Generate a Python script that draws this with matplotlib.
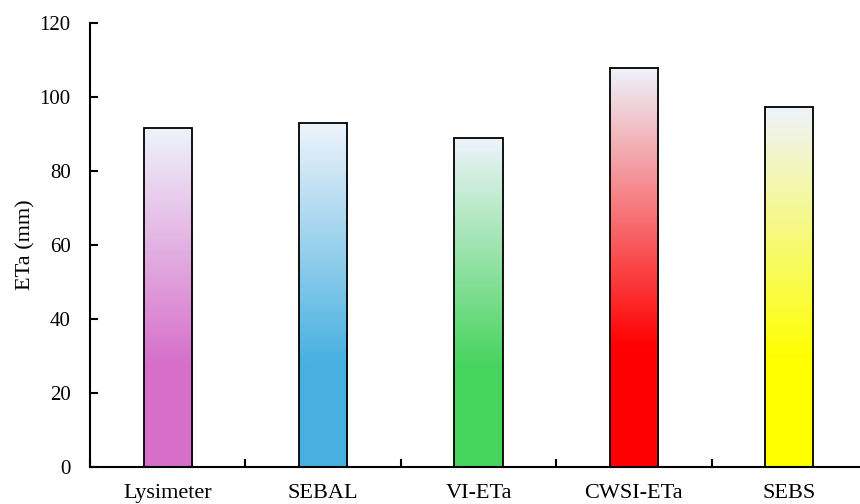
import numpy as np
import matplotlib
matplotlib.use("Agg")
import matplotlib.pyplot as plt
from matplotlib.colors import to_rgb

categories = ["Lysimeter", "SEBAL", "VI-ETa", "CWSI-ETa", "SEBS"]
eta_mm = [91.6, 92.9, 89.0, 107.9, 97.3]
base_colors = ["#D76FC9", "#47B0E0", "#46D45C", "#FF0000", "#FFFF00"]
top_color = "#EEF3FB"
y_ticks = [0, 20, 40, 60, 80, 100, 120]

plt.rcParams["font.family"] = ["Liberation Serif", "DejaVu Serif"]

fig = plt.figure(figsize=(8.6, 5.04), dpi=100)
ax = fig.add_axes([90 / 860, 37 / 504, 777 / 860, 444 / 504])

x = np.arange(len(categories))
width = 0.31
solid_frac = 0.3

def gradient_image(base, top, n=256):
    b = np.array(to_rgb(base))
    t = np.array(to_rgb(top))
    f = np.linspace(0, 1, n)
    w = np.clip((f - solid_frac) / (1 - solid_frac), 0, 1)[:, None]
    rows = b * (1 - w) + t * w
    return rows[:, None, :]

for xi, val, col in zip(x, eta_mm, base_colors):
    ax.imshow(gradient_image(col, top_color), origin="lower", aspect="auto",
              extent=[xi - width / 2, xi + width / 2, 0, val],
              interpolation="bilinear", zorder=2)

ax.bar(x, eta_mm, width=width, facecolor="none", edgecolor="black",
       linewidth=1.3, zorder=3)

ax.set_xlim(-0.5, len(categories) - 0.5)
ax.set_ylim(0, 120)
ax.set_yticks(y_ticks)
ax.set_xticks(x)
ax.set_xticklabels(categories)
ax.set_xticks(np.arange(len(categories) + 1) - 0.5, minor=True)

for s in ("top", "right"):
    ax.spines[s].set_visible(False)
for s in ("left", "bottom"):
    ax.spines[s].set_linewidth(1.5)

ax.tick_params(axis="y", direction="in", length=6, width=1.5, labelsize=15, pad=14)
ax.tick_params(axis="x", which="major", length=0, labelsize=16, pad=12)
ax.tick_params(axis="x", which="minor", direction="in", length=6, width=1.5)

ax.set_ylabel("ETa (mm)", fontsize=16, labelpad=3)

fig.savefig("out.png", dpi=100)
